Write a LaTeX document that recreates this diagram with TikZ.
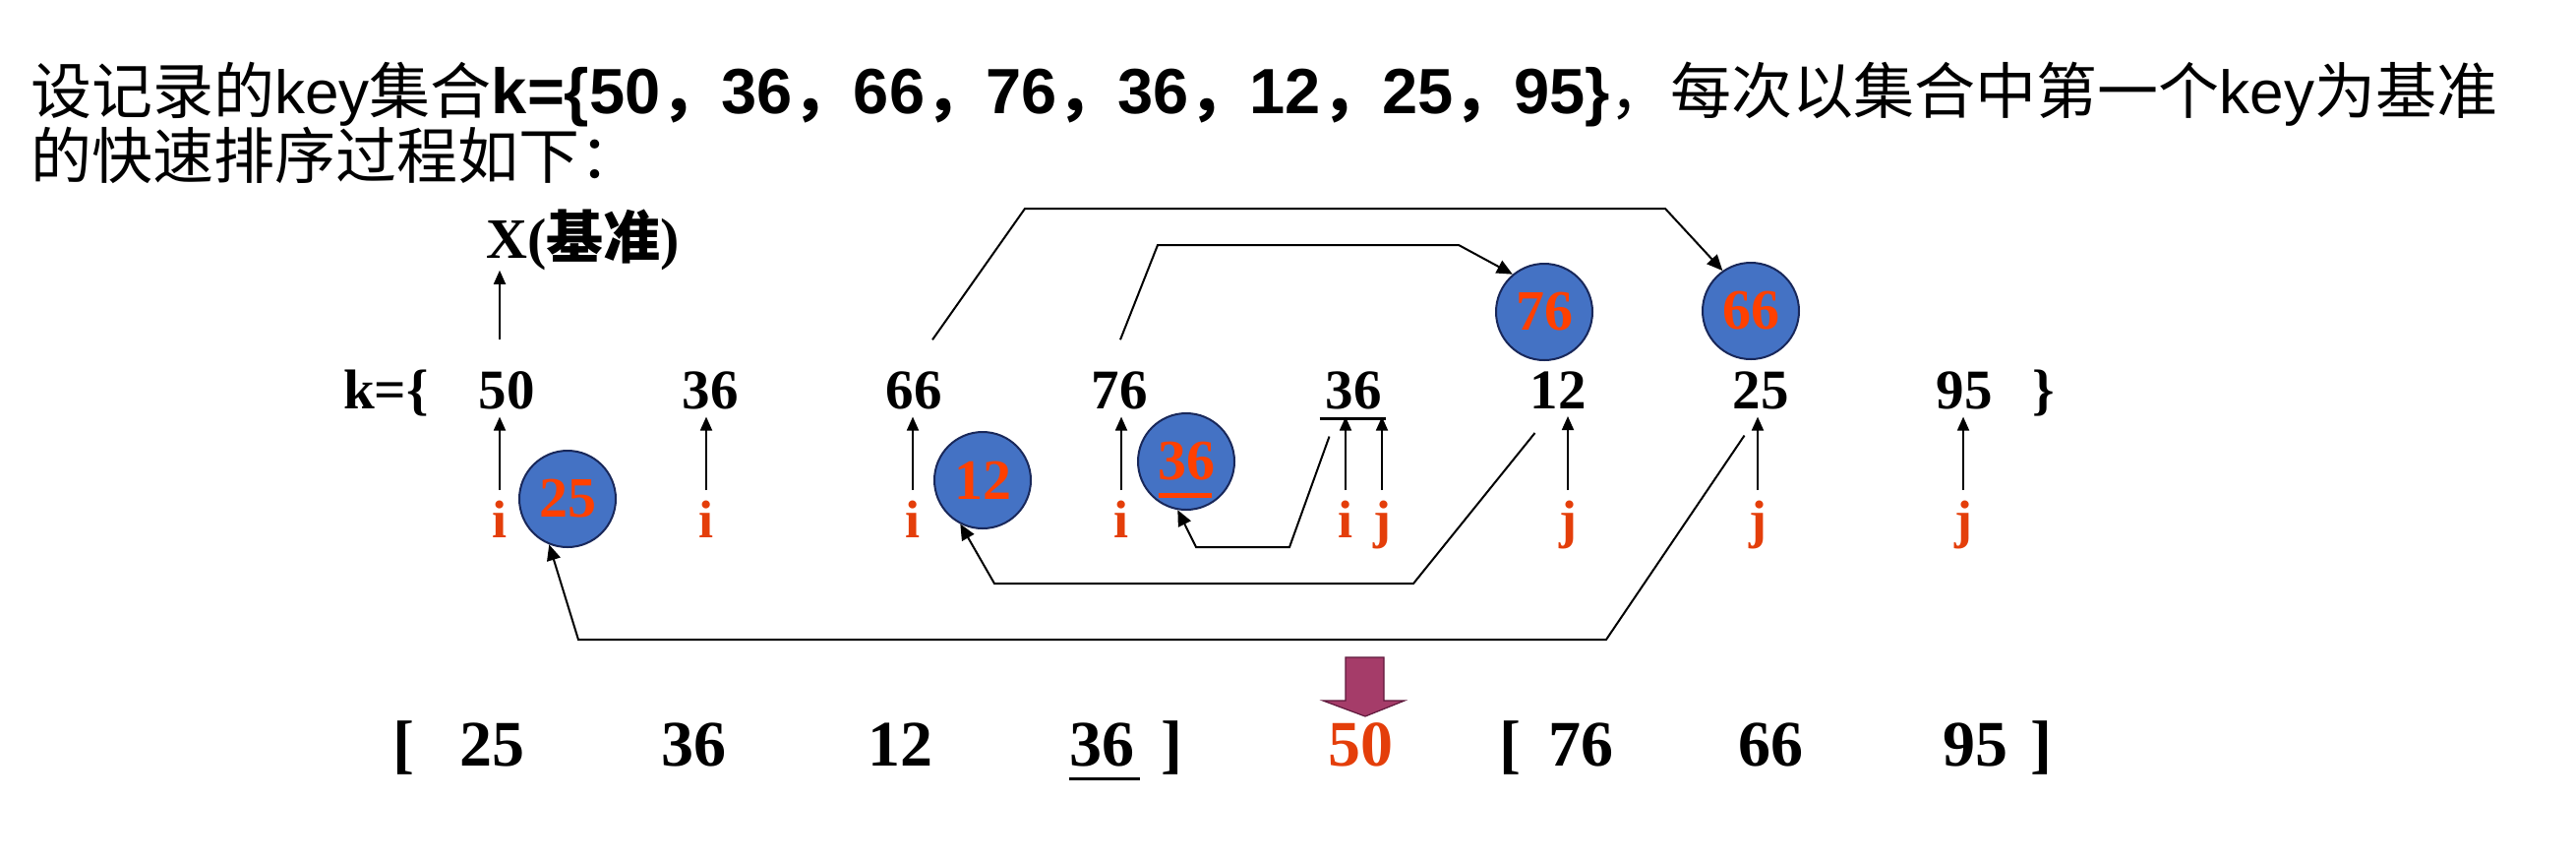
\documentclass[tikz,border=0pt]{standalone}
\usepackage{fontspec}
\setmainfont{Liberation Serif}
\newfontfamily\cjkf{Noto Sans CJK SC}
\newfontfamily\arf{Liberation Sans}
\usetikzlibrary{arrows.meta,calc}
\definecolor{labred}{RGB}{228,62,10}
\definecolor{ballblue}{RGB}{68,114,196}
\definecolor{ballnavy}{RGB}{25,40,90}
\definecolor{ballred}{RGB}{255,64,0}
\definecolor{arrowmaroon}{RGB}{165,60,105}
\definecolor{arrowdark}{RGB}{95,25,60}
\newcommand\zc{{\cjkf\bfseries ，}}
\newcommand\ab[1]{{\arf\bfseries\fontsize{32.5}{31}\selectfont #1}}
\begin{document}
\begin{tikzpicture}[x=0.5pt,y=-0.5pt,
  num/.style={inner sep=0pt, outer sep=4pt, anchor=base, font=\fontsize{28.5}{30}\selectfont\bfseries},
  bnum/.style={inner sep=0pt, anchor=base, font=\fontsize{33}{34}\selectfont\bfseries},
  lab/.style={inner sep=0pt, anchor=base, text=labred, font=\fontsize{27}{28}\selectfont\bfseries},
  ball/.style={circle, fill=ballblue, draw=ballnavy, line width=1pt, minimum size=49pt, inner sep=0pt, text=ballred, font=\fontsize{29}{29}\selectfont\bfseries},
  uparrow/.style={draw, line width=0.9pt, -{Triangle[length=7pt,width=6pt]}},
  connarrow/.style={draw, line width=1pt, -{Triangle[length=8pt,width=7pt]}},
  hdr/.style={anchor=base west, inner sep=0pt, font=\fontsize{31}{31}\selectfont}
]
\useasboundingbox (0,0) rectangle (2619,875);

% header
\node[hdr] (t1) at (31,115) {{\cjkf 设记录的}{\arf key}{\cjkf 集合}\ab{k=\{50}\zc\ab{36}\zc\ab{66}\zc\ab{76}\zc\ab{36}\zc\ab{12}\zc\ab{25}\zc\ab{95\}}{\cjkf ，每次以集合中第一个}{\arf key}{\cjkf 为基准}};
\node[hdr] (t2) at (31,181) {\cjkf 的快速排序过程如下：};

% top row
\node[inner sep=0pt, anchor=base west, font=\fontsize{29}{30}\selectfont\bfseries] (xb) at (494,262) {X({\cjkf\bfseries 基准})};
\node[num, anchor=base west] (k) at (341,415) {k=\{};
\node[num] (n1) at (515,415) {50};
\node[num] (n2) at (722,415) {36};
\node[num] (n3) at (929,415) {66};
\node[num] (n4) at (1138,415) {76};
\node[num] (n5) at (1376,415) {36};
\node[num] (n6) at (1584,415) {12};
\node[num] (n7) at (1790,415) {25};
\node[num] (n8) at (1997,415) {95};
\node[num, anchor=base west] (kr) at (2058,415) {\}};
\draw[line width=1.5pt, shorten <=1pt, shorten >=2pt] ([yshift=-5pt]n5.base west) -- ([yshift=-5pt]n5.base east);

% i / j labels
\node[lab] (i1) at (508,546) {i};
\node[lab] (i2) at (718,546) {i};
\node[lab] (i3) at (928,546) {i};
\node[lab] (i4) at (1140,546) {i};
\node[lab] (i5) at (1368,546) {i};
\node[lab] (j5) at (1405,546) {j};
\node[lab] (j6) at (1594,546) {j};
\node[lab] (j7) at (1787,546) {j};
\node[lab] (j8) at (1996,546) {j};

\foreach \l/\n in {i1/n1,i2/n2,i3/n3,i4/n4,i5/n5,j5/n5,j6/n6,j7/n7,j8/n8}
  \draw[uparrow] ([yshift=5pt]\l.north) -- (\l.north |- \n.south);

\draw[uparrow] ($(i1.north |- n1.north)+(0,-24)$) -- (i1.north |- xb.south);

% balls
\node[ball] (c25) at (577,507) {25};
\node[ball] (c12) at (999,488) {12};
\node[ball] (c36) at (1206,469) {36};
\node[ball] (c76) at (1570,317) {76};
\node[ball] (c66) at (1780,316) {66};
\draw[ballred, line width=2.5pt] ([xshift=-14pt,yshift=-17pt]c36.center) -- ([xshift=13pt,yshift=-17pt]c36.center);

% connectors
\draw[connarrow] ([xshift=9.5pt,yshift=12pt]n3.north) -- (1042,212) -- (1693,212) -- (c66.125);
\draw[connarrow] ([xshift=0.5pt,yshift=12pt]n4.north) -- (1177,249) -- (1483,249) -- (c76.130);
\draw[connarrow] ([xshift=6pt,yshift=-10pt]n5.south west) -- (1311,556) -- (1216,556) -- (c36.260);
\draw[connarrow] ([xshift=6.5pt,yshift=-8.5pt]n6.south west) -- (1437,593) -- (1011,593) -- (c12.243);
\draw[connarrow] ([xshift=10pt,yshift=-9.5pt]n7.south west) -- (1633,650) -- (588,650) -- (c25.248);

% maroon arrow
\filldraw[fill=arrowmaroon, draw=arrowdark, line width=0.6pt] (1368,668) -- (1407,668) -- (1407,712) -- (1428,712) -- (1388,728) -- (1345,712) -- (1368,712) -- cycle;

% bottom row
\node[bnum] (bl1) at (410,778) {[};
\node[bnum] (b1) at (500,778) {25};
\node[bnum] (b2) at (705,778) {36};
\node[bnum] (b3) at (915,778) {12};
\node[bnum] (b4) at (1120,778) {36};
\node[bnum] (br1) at (1191,778) {]};
\node[bnum, text=labred] (b5) at (1383,778) {50};
\node[bnum] (bl2) at (1535,778) {[};
\node[bnum] (b6) at (1607,778) {76};
\node[bnum] (b7) at (1800,778) {66};
\node[bnum] (b8) at (2008,778) {95};
\node[bnum] (br2) at (2075,778) {]};
\draw[line width=1.5pt] ([yshift=-6.5pt]b4.base west) -- ([xshift=3pt,yshift=-6.5pt]b4.base east);
\end{tikzpicture}
\end{document}
